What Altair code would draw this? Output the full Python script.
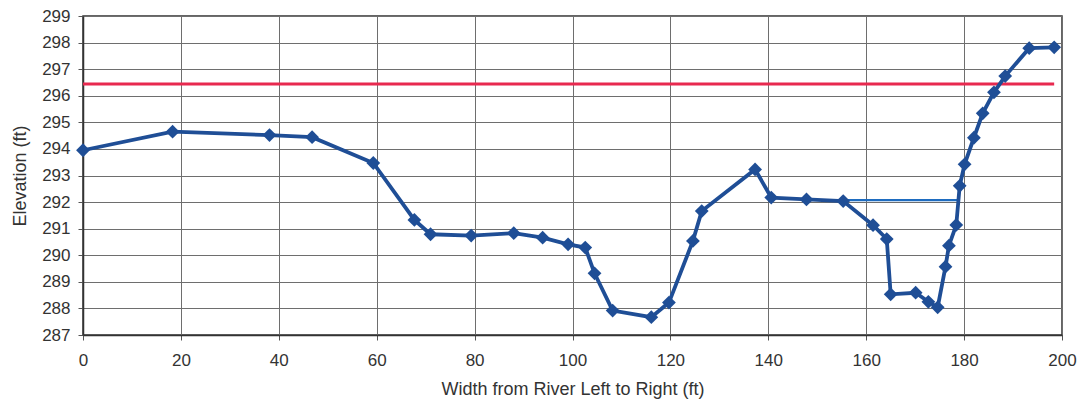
import altair as alt
import pandas as pd

# Surveyed cross-section (station ft, elevation ft)
station = [0, 18.3, 38.1, 46.8, 59.3, 67.7, 71.0, 79.3, 88.0, 93.9, 99.1, 102.6,
           104.5, 108.2, 116.1, 119.7, 124.6, 126.4, 137.3, 140.6, 147.8, 155.3,
           161.4, 164.2, 165.0, 170.1, 172.7, 174.6, 176.2, 176.9, 178.4, 179.1,
           180.1, 182.0, 183.8, 186.1, 188.4, 193.3, 198.4]
elevation = [293.95, 294.65, 294.52, 294.44, 293.47, 291.33, 290.79, 290.74, 290.83,
             290.66, 290.41, 290.29, 289.32, 287.92, 287.67, 288.22, 290.54, 291.66,
             293.23, 292.17, 292.1, 292.04, 291.13, 290.61, 288.53, 288.59, 288.25,
             288.04, 289.57, 290.36, 291.14, 292.61, 293.42, 294.42, 295.34, 296.13,
             296.74, 297.79, 297.82]

# Red reference elevation line
ref_x = [0, 198.4]
ref_y = [296.44, 296.44]

# Water surface line
ws_x = [155.3, 179.1]
ws_y = [292.07, 292.07]

x_ticks = list(range(0, 201, 20))
y_ticks = list(range(287, 300))

df = pd.DataFrame({"x": station, "y": elevation})
ref = pd.DataFrame({"x": ref_x, "y": ref_y})
ws = pd.DataFrame({"x": ws_x, "y": ws_y})

xs = alt.Scale(domain=[0, 200], nice=False)
ys = alt.Scale(domain=[287, 299], nice=False, zero=False)

xax = alt.Axis(values=x_ticks, title="Width from River Left to Right (ft)",
               labelPadding=12, titlePadding=12, labelFlush=False, labelOverlap=False,
               labelFontSize=17)
yax = alt.Axis(values=y_ticks, title="Elevation (ft)", titlePadding=12,
               labelPadding=8, labelFlush=False, labelOverlap=False, labelFontSize=17)

X = alt.X("x:Q", scale=xs, axis=xax)
Y = alt.Y("y:Q", scale=ys, axis=yax)

ref_line = alt.Chart(ref).mark_line(color="#e8294f", strokeWidth=3).encode(x=X, y=Y)

ws_line = alt.Chart(ws).mark_line(color="#1e6cc0", strokeWidth=2.2).encode(x=X, y=Y)

section = alt.Chart(df).mark_line(
    color="#1f4e96", strokeWidth=3.8,
    point=alt.OverlayMarkDef(shape="diamond", size=190, color="#1f4e96", filled=True, opacity=1),
).encode(x=X, y=Y, order=alt.Order("x:Q"))

chart = alt.layer(ref_line, ws_line, section).properties(
    width=979, height=319,
    padding={"left": 83, "top": 16, "right": 25, "bottom": 75},
    autosize=alt.AutoSizeParams(type="none"),
    background="white",
).configure_view(
    stroke="#333333", strokeWidth=1.5
).configure_axis(
    grid=True, gridColor="#6e6e6e", gridWidth=1, gridOpacity=1,
    domainColor="#333333", domainWidth=1.5,
    tickColor="#555555", tickSize=5,
    labelFont="Liberation Sans", titleFont="Liberation Sans",
    labelColor="#333333", titleColor="#333333",
    titleFontSize=18, titleFontWeight="normal",
)

chart.save("out.html", embed_options={"renderer": "svg", "actions": False})
